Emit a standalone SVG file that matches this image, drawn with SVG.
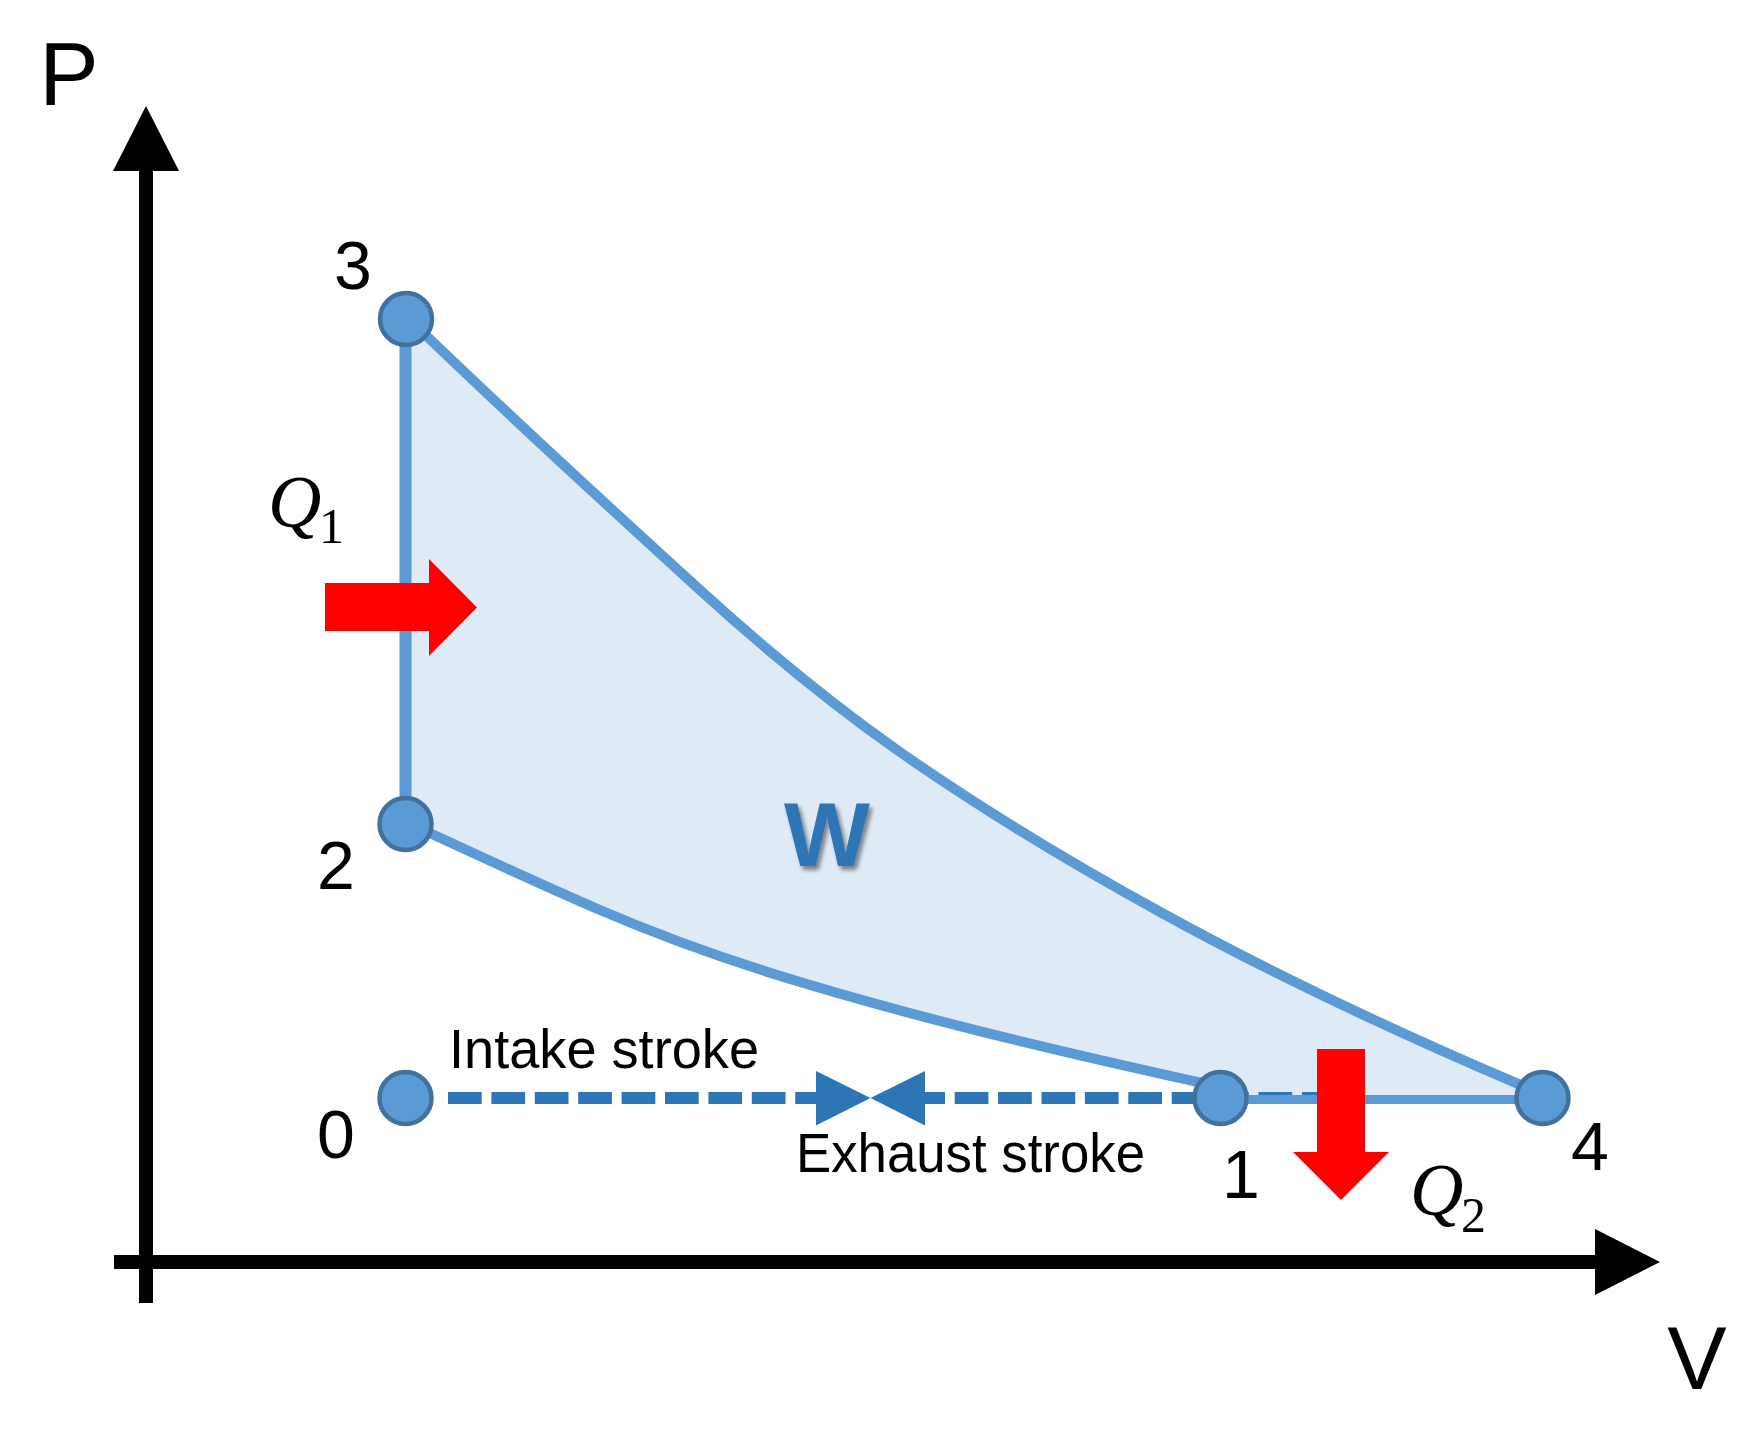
<svg xmlns="http://www.w3.org/2000/svg" width="1757" height="1439" viewBox="0 0 1757 1439">
<style>
.pt{fill:#5B9BD5;stroke:#41719C;stroke-width:4.5}
.ln{fill:none;stroke:#5B9BD5;stroke-width:10;stroke-linecap:butt}
.dash{fill:none;stroke:#2E75B6;stroke-width:12;stroke-dasharray:33.7 9.7}
.lbl{font-family:"Liberation Sans",Arial,sans-serif;font-size:68px;fill:#000;text-anchor:middle}
.txt{font-family:"Liberation Sans",Arial,sans-serif;font-size:56px;fill:#000}
.ax{font-family:"Liberation Sans",Arial,sans-serif;font-size:89px;fill:#000;text-anchor:middle}
.q{font-family:"Liberation Serif","Times New Roman",serif;font-style:italic;font-size:74px;fill:#000}
.qs{font-family:"Liberation Serif","Times New Roman",serif;font-size:50px;fill:#000}
.heat{fill:#FF0000}
</style>
<defs>
<filter id="sh" x="-20%" y="-20%" width="150%" height="150%">
<feDropShadow dx="3" dy="4" stdDeviation="2" flood-color="#000" flood-opacity="0.45"/>
</filter>
</defs>
<rect width="1757" height="1439" fill="#fff"/>

<g id="axes">
<rect x="139" y="165" width="14" height="1138" fill="#000"/>
<polygon points="146,106 113,171 179,171" fill="#000"/>
<rect x="114" y="1255" width="1487" height="14" fill="#000"/>
<polygon points="1595,1229 1660,1262 1595,1295" fill="#000"/>
<text class="ax" x="69" y="105">P</text>
<text class="ax" x="1697" y="1389">V</text>
</g>

<g id="work-area">
<path fill="#DEEBF7" d="M 408,318 C 505.3,412.4 602.7,501.4 700,590 C 766.7,650.7 833.3,705.3 900,752 C 987.3,813.1 1074.7,865 1162,913 C 1288.7,982.7 1415.3,1040.8 1542,1094 L 1542,1099 L 1220,1099 L 1220,1087 C 1080,1056.2 940,1024 800,982 C 733.3,962 666.7,938.7 600,910 C 536,882.5 472,852.4 408,823 L 405.5,823 L 405.5,318 Z"/>
</g>

<g id="connectors">
<path id="c-3-4" class="ln" d="M 408,318 C 505.3,412.4 602.7,501.4 700,590 C 766.7,650.7 833.3,705.3 900,752 C 987.3,813.1 1074.7,865 1162,913 C 1288.7,982.7 1415.3,1040.8 1542,1094"/>
<path id="c-2-1" class="ln" d="M 408,823 C 472,852.4 536,882.5 600,910 C 666.7,938.7 733.3,962 800,982 C 940,1024 1080,1056.2 1220,1087"/>
<line id="c-0-1" class="dash" x1="448" y1="1098" x2="816" y2="1098"/>
<polygon points="816,1071 870.5,1098 816,1125.5" fill="#2E75B6"/>
<line id="c-1-0" class="dash" x1="1335.6" y1="1098" x2="924" y2="1098"/>
<polygon points="925,1071 870.5,1098 925,1125.5" fill="#2E75B6"/>
<line id="c-2-3" x1="405.5" y1="319" x2="405.5" y2="824" stroke="#5B9BD5" stroke-width="12"/>
<line id="c-4-1" x1="1220" y1="1099.5" x2="1542" y2="1099.5" stroke="#5B9BD5" stroke-width="9"/>
</g>

<g id="heat-in">
<polygon class="heat" points="325,583 429,583 429,559 477,607.5 429,656 429,631 325,631"/>
<text class="q" x="268" y="527">Q</text>
<text class="qs" x="319" y="543">1</text>
</g>
<g id="heat-out">
<polygon class="heat" points="1317,1049 1365,1049 1365,1152 1389,1152 1341,1200 1293,1152 1317,1152"/>
<text class="q" x="1410" y="1215">Q</text>
<text class="qs" x="1461" y="1232">2</text>
</g>

<g id="node-3"><circle class="pt" cx="406" cy="319" r="26"/><text class="lbl" x="353" y="289">3</text></g>
<g id="node-2"><circle class="pt" cx="405.5" cy="824" r="26"/><text class="lbl" x="336" y="889">2</text></g>
<g id="node-0"><circle class="pt" cx="405.5" cy="1098" r="26"/><text class="lbl" x="336" y="1158">0</text></g>
<g id="node-1"><circle class="pt" cx="1220.5" cy="1098" r="26"/><text class="lbl" x="1241" y="1198">1</text></g>
<g id="node-4"><circle class="pt" cx="1542.5" cy="1098" r="26"/><text class="lbl" x="1590" y="1170">4</text></g>

<g id="labels">
<text class="txt" x="449" y="1068" textLength="310" lengthAdjust="spacingAndGlyphs">Intake stroke</text>
<text class="txt" x="796" y="1172" textLength="349" lengthAdjust="spacingAndGlyphs">Exhaust stroke</text>
<text x="827" y="866" text-anchor="middle" font-family="'Liberation Sans',Arial,sans-serif" font-weight="bold" font-size="91" fill="#2E75B6" filter="url(#sh)">W</text>
</g>
</svg>
